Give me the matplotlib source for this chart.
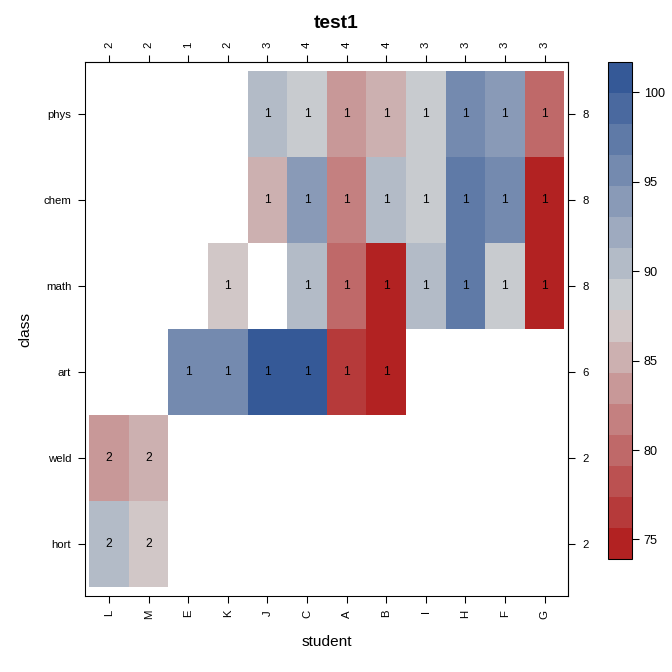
import numpy as np
import matplotlib
matplotlib.use("Agg")
import matplotlib.pyplot as plt
from matplotlib.colors import ListedColormap, BoundaryNorm, LinearSegmentedColormap

plt.rcParams['font.family'] = ['Liberation Sans', 'DejaVu Sans']

# ---- data ----
students = ['L', 'M', 'E', 'K', 'J', 'C', 'A', 'B', 'I', 'H', 'F', 'G']
classes = ['hort', 'weld', 'art', 'math', 'chem', 'phys']  # bottom -> top
nan = np.nan
grade_hort = [90.5, 87.0, nan, nan, nan, nan, nan, nan, nan, nan, nan, nan]
grade_weld = [83.5, 85.5, nan, nan, nan, nan, nan, nan, nan, nan, nan, nan]
grade_art = [nan, nan, 95.5, 95.5, 100.0, 100.0, 76.5, 75.6, nan, nan, nan, nan]
grade_math = [nan, nan, nan, 87.0, nan, 90.5, 80.0, 75.6, 90.0, 97.0, 89.0, 75.6]
grade_chem = [nan, nan, nan, nan, 85.5, 93.5, 82.0, 90.0, 88.5, 97.5, 96.0, 75.6]
grade_phys = [nan, nan, nan, nan, 90.5, 88.5, 83.5, 85.0, 89.0, 95.5, 94.0, 80.0]
count_hort = [2, 2, 0, 0, 0, 0, 0, 0, 0, 0, 0, 0]
count_weld = [2, 2, 0, 0, 0, 0, 0, 0, 0, 0, 0, 0]
count_art = [0, 0, 1, 1, 1, 1, 1, 1, 0, 0, 0, 0]
count_math = [0, 0, 0, 1, 0, 1, 1, 1, 1, 1, 1, 1]
count_chem = [0, 0, 0, 0, 1, 1, 1, 1, 1, 1, 1, 1]
count_phys = [0, 0, 0, 0, 1, 1, 1, 1, 1, 1, 1, 1]
cbar_ticks = [75, 80, 85, 90, 95, 100]

Z = np.array([grade_hort, grade_weld, grade_art, grade_math, grade_chem, grade_phys])
N = np.array([count_hort, count_weld, count_art, count_math, count_chem, count_phys])

# lattice-style breaks: range extended by 7%, 16 bins
zmin, zmax = np.nanmin(Z), np.nanmax(Z)
R = zmax - zmin
breaks = np.linspace(zmin - 0.07 * R, zmax + 0.07 * R, 17)
ramp = LinearSegmentedColormap.from_list('r', ['#B22222', '#D3D3D3', '#355997'])
cols = [ramp(i / 15) for i in range(16)]
cmap = ListedColormap(cols)
norm = BoundaryNorm(breaks, 16)

fig = plt.figure(figsize=(7, 7), dpi=96)
ax = fig.add_axes([0.127, 0.1131, 0.7187, 0.7942])
nx, ny = len(students), len(classes)
xe = np.arange(nx + 1) + 0.5
ye = np.arange(ny + 1) + 0.5
mesh = ax.pcolormesh(xe, ye, np.ma.masked_invalid(Z), cmap=cmap, norm=norm)
for r in range(ny):
    for c in range(nx):
        if N[r, c] > 0:
            ax.text(c + 1, r + 1, str(N[r, c]), ha='center', va='center', fontsize=9, color='black')
ax.set_xlim(0.4, nx + 0.6)
ax.set_ylim(0.4, ny + 0.6)

tick_kw = dict(length=5.5, width=0.8, direction='out', labelsize=8.5, pad=5)
ax.set_xticks(np.arange(1, nx + 1))
ax.set_xticklabels(students, rotation=90)
ax.set_yticks(np.arange(1, ny + 1))
ax.set_yticklabels(classes)
ax.tick_params(axis='both', **tick_kw)
for s in ax.spines.values():
    s.set_linewidth(0.8)

top = ax.secondary_xaxis('top')
top.set_xticks(np.arange(1, nx + 1))
top.set_xticklabels([str(v) for v in (N > 0).sum(axis=0)], rotation=90)
top.tick_params(**tick_kw)
right = ax.secondary_yaxis('right')
right.set_yticks(np.arange(1, ny + 1))
right.set_yticklabels([str(v) for v in (N > 0).sum(axis=1)])
right.tick_params(**tick_kw)

ax.set_xlabel('student', fontsize=11.5, labelpad=12)
ax.set_ylabel('class', fontsize=11.5, labelpad=8)
fig.text(0.5, 0.978, 'test1', ha='center', va='top', fontsize=14.4, fontweight='bold')

cax = fig.add_axes([0.9052, 0.1677, 0.0348, 0.7405])
cb = fig.colorbar(mesh, cax=cax, ticks=cbar_ticks)
cb.outline.set_linewidth(0.8)
cb.ax.minorticks_off()
cb.ax.tick_params(which='major', length=5, width=0.8, labelsize=9.5, pad=4)
cb.ax.tick_params(which='minor', length=0)
cb.ax.set_yticklabels([str(t) for t in cbar_ticks])

fig.savefig('out.png', dpi=96)
